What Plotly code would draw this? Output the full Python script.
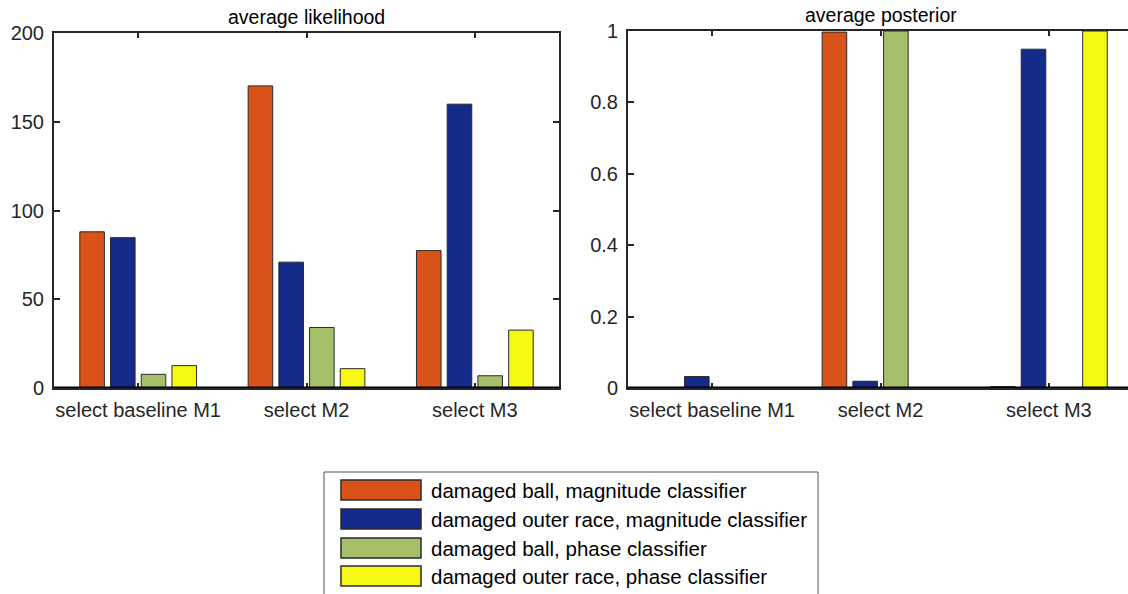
import plotly.graph_objects as go

categories = ["select baseline M1", "select M2", "select M3"]
series_names = [
    "damaged ball, magnitude classifier",
    "damaged outer race, magnitude classifier",
    "damaged ball, phase classifier",
    "damaged outer race, phase classifier",
]
colors = ["#D95319", "#142A8A", "#A6BF6A", "#F7F714"]

likelihood = [
    [88.0, 170.2, 77.4],   # damaged ball, magnitude
    [84.7, 70.9, 159.9],   # damaged outer race, magnitude
    [7.7, 34.1, 6.9],      # damaged ball, phase
    [12.6, 10.9, 32.6],    # damaged outer race, phase
]
posterior = [
    [0.001, 0.997, 0.004],
    [0.032, 0.019, 0.949],
    [0.0, 1.0, 0.0],
    [0.0, 0.0, 1.0],
]

W, H = 1128, 594
xpos = [1, 2, 3]
FONT = "Liberation Sans, Arial, sans-serif"
AX = "#262626"

fig = go.Figure()
for i, name in enumerate(series_names):
    fig.add_trace(go.Bar(x=xpos, y=likelihood[i], name=name, marker_color=colors[i],
                         marker_line=dict(color="#2a2a2a", width=1), showlegend=False,
                         xaxis="x", yaxis="y"))
    fig.add_trace(go.Bar(x=xpos, y=posterior[i], name=name, marker_color=colors[i],
                         marker_line=dict(color="#2a2a2a", width=1), showlegend=False,
                         xaxis="x2", yaxis="y2"))

def px(x):
    return x / W

def py(y):
    return (H - y) / H

xcommon = dict(tickmode="array", tickvals=xpos, ticktext=categories, ticks="inside",
               ticklen=5, tickwidth=1.5, tickcolor=AX, showline=True, linecolor=AX,
               linewidth=2, mirror="ticks", showgrid=False, zeroline=False, automargin=False,
               ticklabelstandoff=3,
               tickfont=dict(family=FONT, size=20, color=AX))
ycommon = dict(ticks="inside", ticklen=6, tickwidth=1.5, tickcolor=AX, showline=True,
               linecolor=AX, linewidth=2, showgrid=False, zeroline=False, automargin=False,
               ticklabelstandoff=4,
               tickfont=dict(family=FONT, size=20, color=AX))

fig.update_layout(
    width=W, height=H, autosize=False,
    margin=dict(l=0, r=0, t=0, b=0, pad=0),
    paper_bgcolor="white", plot_bgcolor="white",
    barmode="group", bargap=0.27, bargroupgap=0.2,
    xaxis=dict(domain=[px(54), px(559)], range=[0.5, 3.5], anchor="y", **xcommon),
    yaxis=dict(domain=[py(388), py(33)], range=[0, 200], tickvals=[0, 50, 100, 150, 200],
               anchor="x", mirror="ticks", **ycommon),
    xaxis2=dict(domain=[px(628), 1.0], range=[0.5, 3.47], anchor="y2", **xcommon),
    yaxis2=dict(domain=[py(388), py(31)], range=[0, 1], tickvals=[0, 0.2, 0.4, 0.6, 0.8, 1],
                ticktext=["0", "0.2", "0.4", "0.6", "0.8", "1"], anchor="x2", mirror=False,
                **ycommon),
    showlegend=False,
)

annotations = [
    dict(text="average likelihood", x=px(306.5), y=py(17), xref="paper", yref="paper",
         showarrow=False, xanchor="center", yanchor="middle",
         font=dict(family=FONT, size=19.5, color="black")),
    dict(text="average posterior", x=px(881), y=py(15), xref="paper", yref="paper",
         showarrow=False, xanchor="center", yanchor="middle",
         font=dict(family=FONT, size=19.5, color="black")),
]

shapes = [
    dict(type="line", xref="x domain", yref="y", x0=0, x1=1, y0=0, y1=0,
         line=dict(color="black", width=3), layer="above"),
    dict(type="line", xref="x2 domain", yref="y2", x0=0, x1=1, y0=0, y1=0,
         line=dict(color="black", width=3), layer="above"),
    dict(type="rect", xref="paper", yref="paper", x0=px(324), x1=px(818), y0=py(620), y1=py(472),
         line=dict(color="#555555", width=1), fillcolor="white"),
]

row_top = [480, 509, 538, 566]
for i, name in enumerate(series_names):
    shapes.append(dict(type="rect", xref="paper", yref="paper", x0=px(341), x1=px(421),
                       y0=py(row_top[i] + 20), y1=py(row_top[i]), fillcolor=colors[i],
                       line=dict(color="#2a2a2a", width=1.5)))
    annotations.append(dict(text=name, x=px(429), y=py(row_top[i] + 10), xref="paper",
                            yref="paper", showarrow=False, xanchor="left", yanchor="middle",
                            font=dict(family=FONT, size=20.5, color="black")))

fig.update_layout(shapes=shapes, annotations=annotations)
fig.write_html("out.html", config={"displayModeBar": False},
               post_script="document.body.style.margin='0';document.body.style.overflow='hidden';")
